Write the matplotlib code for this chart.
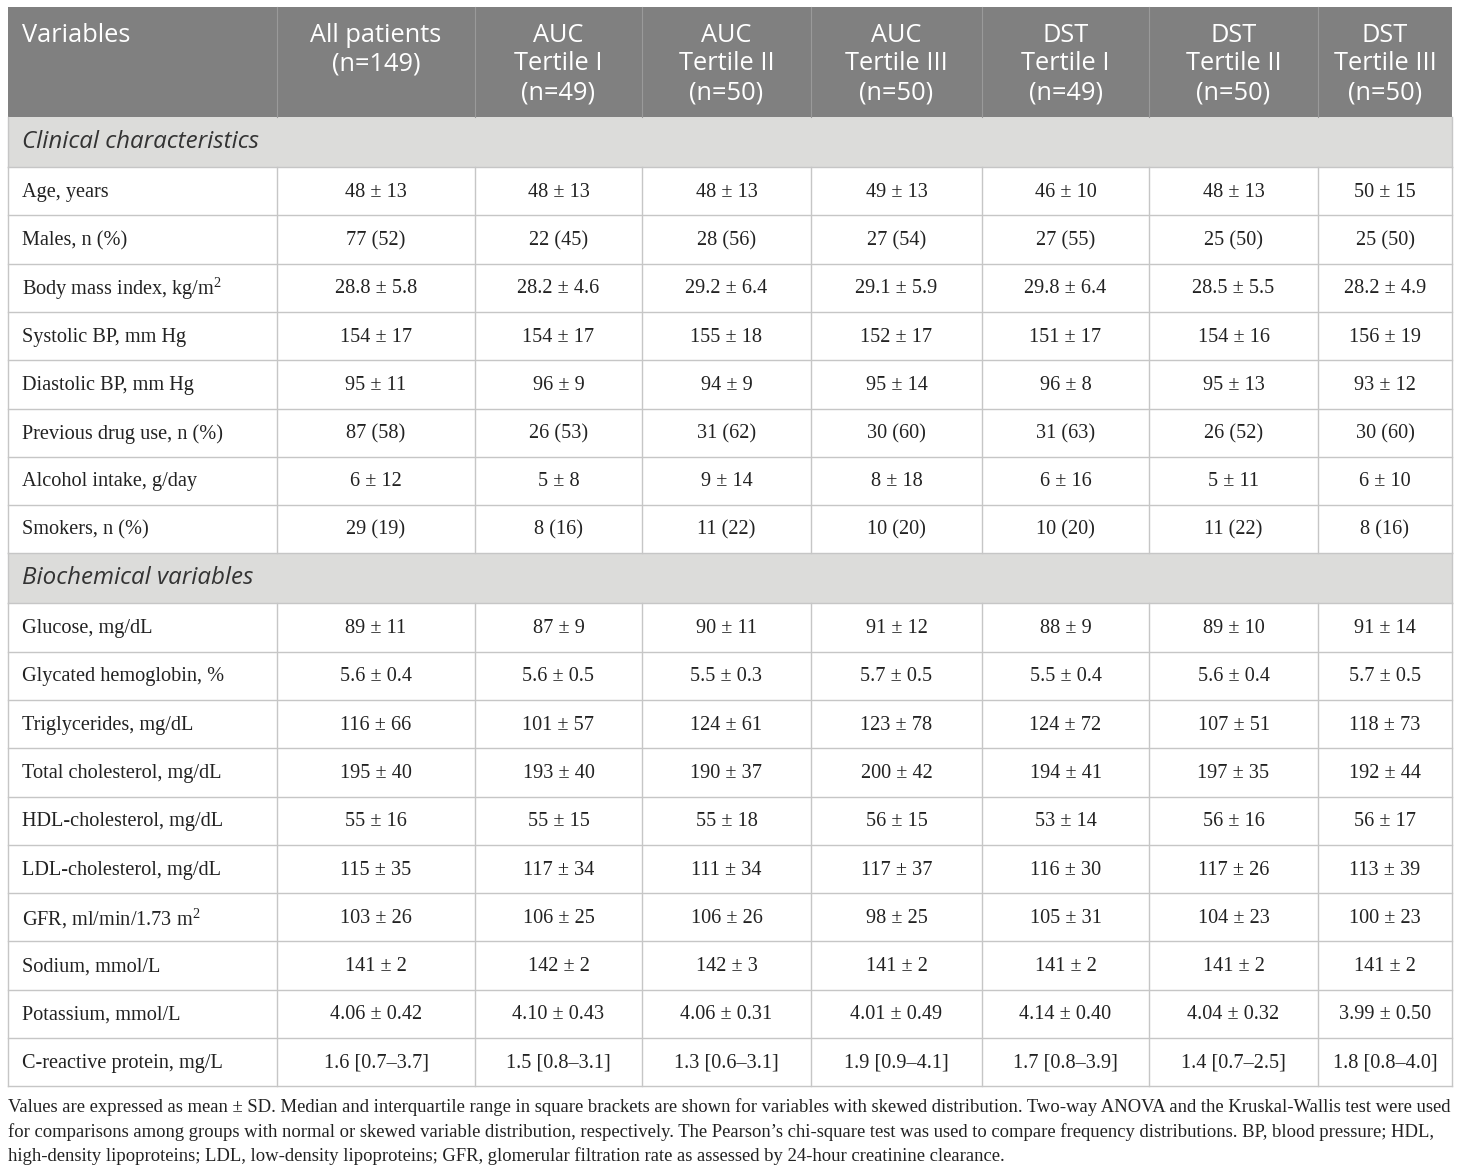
"""Table: baseline characteristics by AUC and DST tertiles."""

import matplotlib.pyplot as plt
from matplotlib.patches import Rectangle

plt.rcParams["mathtext.fontset"] = "custom"
plt.rcParams["mathtext.rm"] = "Liberation Serif"

HEADERS = [
    "Variables",
    "All patients\n(n=149)",
    "AUC\nTertile I\n(n=49)",
    "AUC\nTertile II\n(n=50)",
    "AUC\nTertile III\n(n=50)",
    "DST\nTertile I\n(n=49)",
    "DST\nTertile II\n(n=50)",
    "DST\nTertile III\n(n=50)",
]

CLINICAL_TITLE = "Clinical characteristics"
CLINICAL_ROWS = [
    ["Age, years", "48 ± 13", "48 ± 13", "48 ± 13", "49 ± 13", "46 ± 10", "48 ± 13", "50 ± 15"],
    ["Males, n (%)", "77 (52)", "22 (45)", "28 (56)", "27 (54)", "27 (55)", "25 (50)", "25 (50)"],
    ["Body mass index, kg/m$^{\\mathregular{2}}$", "28.8 ± 5.8", "28.2 ± 4.6", "29.2 ± 6.4",
     "29.1 ± 5.9", "29.8 ± 6.4", "28.5 ± 5.5", "28.2 ± 4.9"],
    ["Systolic BP, mm Hg", "154 ± 17", "154 ± 17", "155 ± 18", "152 ± 17", "151 ± 17", "154 ± 16", "156 ± 19"],
    ["Diastolic BP, mm Hg", "95 ± 11", "96 ± 9", "94 ± 9", "95 ± 14", "96 ± 8", "95 ± 13", "93 ± 12"],
    ["Previous drug use, n (%)", "87 (58)", "26 (53)", "31 (62)", "30 (60)", "31 (63)", "26 (52)", "30 (60)"],
    ["Alcohol intake, g/day", "6 ± 12", "5 ± 8", "9 ± 14", "8 ± 18", "6 ± 16", "5 ± 11", "6 ± 10"],
    ["Smokers, n (%)", "29 (19)", "8 (16)", "11 (22)", "10 (20)", "10 (20)", "11 (22)", "8 (16)"],
]

BIOCHEM_TITLE = "Biochemical variables"
BIOCHEM_ROWS = [
    ["Glucose, mg/dL", "89 ± 11", "87 ± 9", "90 ± 11", "91 ± 12", "88 ± 9", "89 ± 10", "91 ± 14"],
    ["Glycated hemoglobin, %", "5.6 ± 0.4", "5.6 ± 0.5", "5.5 ± 0.3", "5.7 ± 0.5", "5.5 ± 0.4", "5.6 ± 0.4", "5.7 ± 0.5"],
    ["Triglycerides, mg/dL", "116 ± 66", "101 ± 57", "124 ± 61", "123 ± 78", "124 ± 72", "107 ± 51", "118 ± 73"],
    ["Total cholesterol, mg/dL", "195 ± 40", "193 ± 40", "190 ± 37", "200 ± 42", "194 ± 41", "197 ± 35", "192 ± 44"],
    ["HDL-cholesterol, mg/dL", "55 ± 16", "55 ± 15", "55 ± 18", "56 ± 15", "53 ± 14", "56 ± 16", "56 ± 17"],
    ["LDL-cholesterol, mg/dL", "115 ± 35", "117 ± 34", "111 ± 34", "117 ± 37", "116 ± 30", "117 ± 26", "113 ± 39"],
    ["GFR, ml/min/1.73 m$^{\\mathregular{2}}$", "103 ± 26", "106 ± 25", "106 ± 26", "98 ± 25", "105 ± 31", "104 ± 23", "100 ± 23"],
    ["Sodium, mmol/L", "141 ± 2", "142 ± 2", "142 ± 3", "141 ± 2", "141 ± 2", "141 ± 2", "141 ± 2"],
    ["Potassium, mmol/L", "4.06 ± 0.42", "4.10 ± 0.43", "4.06 ± 0.31", "4.01 ± 0.49",
     "4.14 ± 0.40", "4.04 ± 0.32", "3.99 ± 0.50"],
    ["C-reactive protein, mg/L", "1.6 [0.7–3.7]", "1.5 [0.8–3.1]", "1.3 [0.6–3.1]", "1.9 [0.9–4.1]",
     "1.7 [0.8–3.9]", "1.4 [0.7–2.5]", "1.8 [0.8–4.0]"],
]

FOOTNOTE = [
    "Values are expressed as mean ± SD. Median and interquartile range in square brackets are shown "
    "for variables with skewed distribution. Two-way ANOVA and the Kruskal-Wallis test were used",
    "for comparisons among groups with normal or skewed variable distribution, respectively. "
    "The Pearson’s chi-square test was used to compare frequency distributions. BP, blood pressure; HDL,",
    "high-density lipoproteins; LDL, low-density lipoproteins; GFR, glomerular filtration rate as "
    "assessed by 24-hour creatinine clearance.",
]

# Layout in pixels
W, H = 1460, 1173
COL_EDGES = [8, 277, 475, 642, 811, 982, 1149, 1318, 1452]
TOP = 7
HEADER_H = 110
SECTION_H = 50
ROW_H = 48.3

HEADER_BG = "#808080"
SECTION_BG = "#dcdcda"
GRID = "#c6c6c6"
TEXT = "#222222"
SANS = "Open Sans"
SERIF = "Liberation Serif"

fig = plt.figure(figsize=(W / 100, H / 100), dpi=100)
ax = fig.add_axes([0, 0, 1, 1])
ax.set_xlim(0, W)
ax.set_ylim(H, 0)
ax.axis("off")

left, right = COL_EDGES[0], COL_EDGES[-1]

# Шапка
ax.add_patch(Rectangle((left, TOP), right - left, HEADER_H, facecolor=HEADER_BG, edgecolor="none"))
for x in COL_EDGES[1:-1]:
    ax.plot([x, x], [TOP, TOP + HEADER_H], color="#9a9a9a", lw=0.8)
for i, label in enumerate(HEADERS):
    for k, part in enumerate(label.split("\n")):
        yc = TOP + 28 + k * 29
        if i == 0:
            ax.text(left + 14, yc, part, ha="left", va="center", color="white",
                    fontsize=18.3, family=SANS)
        else:
            xc = (COL_EDGES[i] + COL_EDGES[i + 1]) / 2
            ax.text(xc, yc, part, ha="center", va="center", color="white",
                    fontsize=18.3, family=SANS)

y = TOP + HEADER_H


def draw_section(y, title, rows):
    ax.add_patch(Rectangle((left, y), right - left, SECTION_H, facecolor=SECTION_BG, edgecolor="none"))
    ax.text(left + 14, y + SECTION_H / 2, title, ha="left", va="center", color="#333333",
            fontsize=17.4, family=SANS, style="italic")
    ax.plot([left, right], [y + SECTION_H, y + SECTION_H], color=GRID, lw=1)
    y += SECTION_H
    y0 = y
    for row in rows:
        yc = y + ROW_H / 2 + 1
        ax.text(left + 14, yc, row[0], ha="left", va="center", color=TEXT, fontsize=14.6, family=SERIF)
        for j, val in enumerate(row[1:], start=1):
            xc = (COL_EDGES[j] + COL_EDGES[j + 1]) / 2
            ax.text(xc, yc, val, ha="center", va="center", color=TEXT, fontsize=14.6, family=SERIF)
        y += ROW_H
        ax.plot([left, right], [y, y], color=GRID, lw=1)
    for x in COL_EDGES:
        ax.plot([x, x], [y0, y], color=GRID, lw=1)
    ax.plot([left, left], [y0 - SECTION_H, y0], color=GRID, lw=1)
    ax.plot([right, right], [y0 - SECTION_H, y0], color=GRID, lw=1)
    return y


y = draw_section(y, CLINICAL_TITLE, CLINICAL_ROWS)
y = draw_section(y, BIOCHEM_TITLE, BIOCHEM_ROWS)

# Примечание под таблицей
for k, line in enumerate(FOOTNOTE):
    ax.text(left, y + 21 + k * 24.5, line, ha="left", va="center", color=TEXT,
            fontsize=13.45, family=SERIF)

fig.savefig("out.png", dpi=100)
